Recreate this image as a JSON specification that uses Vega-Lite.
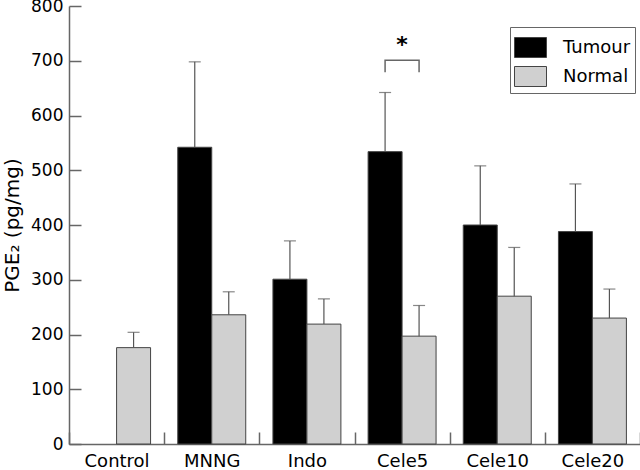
{
  "$schema": "https://vega.github.io/schema/vega-lite/v6.json",
  "width": 571,
  "height": 438,
  "autosize": {"type": "none"},
  "padding": {"left": 69, "top": 6, "right": 0, "bottom": 26},
  "background": "white",
  "config": {
    "view": {"stroke": null},
    "font": "DejaVu Sans",
    "axis": {"domainColor": "#666666", "tickColor": "#666666", "labelColor": "#000000", "titleColor": "#000000", "grid": false, "domainWidth": 1.5, "tickWidth": 1.5}
  },
  "datasets": {
    "bars": [
      {"group": "Control", "series": "Normal", "value": 176, "err": 204},
      {"group": "MNNG", "series": "Tumour", "value": 542, "err": 698},
      {"group": "MNNG", "series": "Normal", "value": 236, "err": 278},
      {"group": "Indo", "series": "Tumour", "value": 301, "err": 371},
      {"group": "Indo", "series": "Normal", "value": 219, "err": 265},
      {"group": "Cele5", "series": "Tumour", "value": 534, "err": 642},
      {"group": "Cele5", "series": "Normal", "value": 197, "err": 253},
      {"group": "Cele10", "series": "Tumour", "value": 400, "err": 508},
      {"group": "Cele10", "series": "Normal", "value": 270, "err": 359},
      {"group": "Cele20", "series": "Tumour", "value": 388, "err": 475},
      {"group": "Cele20", "series": "Normal", "value": 230, "err": 283}
    ],
    "bracket": [
      {"group": "Cele5", "series": "Tumour", "y": 679, "i": 1},
      {"group": "Cele5", "series": "Tumour", "y": 701, "i": 2},
      {"group": "Cele5", "series": "Normal", "y": 701, "i": 3},
      {"group": "Cele5", "series": "Normal", "y": 679, "i": 4}
    ],
    "star": [{"group": "Cele5", "y": 729, "label": "*"}]
  },
  "encoding": {
    "x": {
      "field": "group",
      "type": "nominal",
      "sort": null,
      "scale": {"domain": ["Control", "MNNG", "Indo", "Cele5", "Cele10", "Cele20"], "paddingInner": 0, "paddingOuter": 0},
      "axis": {"title": null, "tickBand": "extent", "tickSize": -12, "labelFontSize": 18, "labelPadding": 20, "labelAngle": 0}
    }
  },
  "layer": [
    {
      "data": {"name": "bars"},
      "mark": {"type": "bar", "stroke": "#444444", "strokeWidth": 1},
      "encoding": {
        "xOffset": {"field": "series", "type": "nominal", "scale": {"domain": ["Tumour", "Normal"], "paddingInner": 0, "paddingOuter": 0.4}},
        "y": {
          "field": "value",
          "type": "quantitative",
          "scale": {"domain": [0, 800], "nice": false},
          "axis": {"values": [0, 100, 200, 300, 400, 500, 600, 700, 800], "tickSize": -12, "labelFontSize": 17, "labelPadding": 18, "title": "PGE₂ (pg/mg)", "titleFontSize": 20, "titleFontWeight": "normal", "titlePadding": 8}
        },
        "color": {
          "field": "series",
          "type": "nominal",
          "scale": {"domain": ["Tumour", "Normal"], "range": ["#000000", "#d0d0d0"]},
          "legend": {"orient": "none", "legendX": 441, "legendY": 21, "title": null, "symbolType": "M-1,-0.625H1V0.625H-1Z", "symbolSize": 1024, "symbolStrokeColor": "#444444", "symbolStrokeWidth": 1, "symbolOpacity": 1, "labelFontSize": 18, "labelOffset": 16, "rowPadding": -6, "padding": 4, "strokeColor": "#666666", "fillColor": "white", "labelColor": "#000000"}
        }
      }
    },
    {
      "data": {"name": "bars"},
      "mark": {"type": "rule", "color": "#555555", "strokeWidth": 1.2},
      "encoding": {
        "xOffset": {"field": "series", "type": "nominal"},
        "y": {"field": "value", "type": "quantitative"},
        "y2": {"field": "err"}
      }
    },
    {
      "data": {"name": "bars"},
      "mark": {"type": "tick", "color": "#555555", "size": 12, "thickness": 1.2},
      "encoding": {
        "xOffset": {"field": "series", "type": "nominal"},
        "y": {"field": "err", "type": "quantitative"}
      }
    },
    {
      "data": {"name": "bracket"},
      "mark": {"type": "line", "color": "#666666", "strokeWidth": 1.5},
      "encoding": {
        "xOffset": {"field": "series", "type": "nominal"},
        "y": {"field": "y", "type": "quantitative"},
        "order": {"field": "i", "type": "quantitative"}
      }
    },
    {
      "data": {"name": "star"},
      "mark": {"type": "text", "fontSize": 22, "fontWeight": "bold", "baseline": "middle", "color": "#000000"},
      "encoding": {
        "y": {"field": "y", "type": "quantitative"},
        "text": {"field": "label"}
      }
    }
  ]
}
